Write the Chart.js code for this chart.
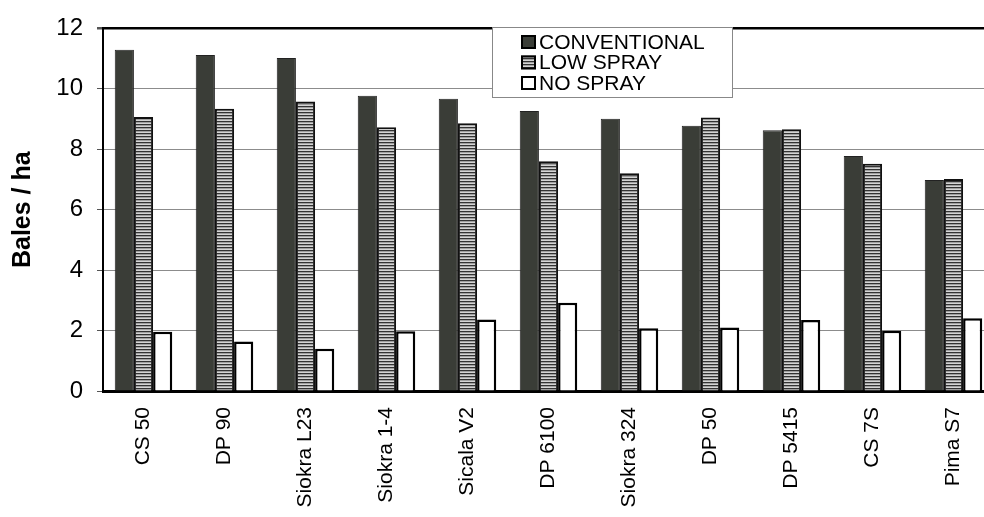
<!DOCTYPE html>
<html>
<head>
<meta charset="utf-8">
<script src="https://cdn.jsdelivr.net/npm/chart.js@4"></script>
<style>
  html, body { margin: 0; padding: 0; background: #fff; overflow: hidden; }
  #wrap { width: 1010px; height: 517px; }
</style>
</head>
<body>
<div id="wrap"><canvas id="c" width="1010" height="517"></canvas></div>
<script>
// values (bales / ha)
const cultivars = ['CS 50', 'DP 90', 'Siokra L23', 'Siokra 1-4', 'Sicala V2', 'DP 6100',
                   'Siokra 324', 'DP 50', 'DP 5415', 'CS 7S', 'Pima S7'];
const conventional = [11.29, 11.12, 11.02, 9.77, 9.67, 9.27, 9.01, 8.78, 8.63, 7.78, 6.98];
const lowSpray     = [9.07, 9.34, 9.58, 8.73, 8.86, 7.60, 7.21, 9.05, 8.66, 7.52, 7.02];
const noSpray      = [1.96, 1.64, 1.40, 1.98, 2.37, 2.92, 2.08, 2.10, 2.35, 1.99, 2.41];
const yTicks = [0, 2, 4, 6, 8, 10, 12];

const FONT = '"Liberation Sans", Arial, sans-serif';

// striped fill for the low spray bars
function stripes() {
  const p = document.createElement('canvas');
  p.width = 4; p.height = 3;
  const g = p.getContext('2d');
  g.fillStyle = '#d4d4d4'; g.fillRect(0, 0, 4, 1);
  g.fillStyle = '#333'; g.fillRect(0, 1, 4, 1);
  g.fillStyle = '#a0a0a0'; g.fillRect(0, 2, 4, 1);
  return g.createPattern(p, 'repeat');
}
const ctx = document.getElementById('c').getContext('2d');
const lowFill = stripes();

// legend box drawn inside the plot, like the original
const boxLegend = {
  id: 'boxLegend',
  afterDraw(chart) {
    const c = chart.ctx;
    const x = 492, y = 27, w = 240, h = 70;
    c.save();
    c.fillStyle = '#fff';
    c.fillRect(x, y, w, h);
    c.strokeStyle = '#888';
    c.lineWidth = 1;
    c.strokeRect(x + 0.5, y + 0.5, w, h);
    c.font = '21px ' + FONT;
    c.textBaseline = 'middle';
    chart.data.datasets.forEach((ds, i) => {
      const cy = 42 + i * 20.5;
      c.fillStyle = ds.backgroundColor;
      c.fillRect(521, cy - 7, 15, 14);
      c.strokeStyle = '#000';
      c.lineWidth = 2;
      c.strokeRect(522, cy - 6, 13, 12);
      c.fillStyle = '#000';
      c.fillText(ds.label, 539, cy + 1);
    });
    c.restore();
  }
};

new Chart(ctx, {
  type: 'bar',
  data: {
    labels: cultivars,
    datasets: [
      { label: 'CONVENTIONAL', data: conventional, backgroundColor: '#3a3d37', borderColor: '#222', borderWidth: 1 },
      { label: 'LOW SPRAY', data: lowSpray, backgroundColor: lowFill, borderColor: '#111', borderWidth: 2 },
      { label: 'NO SPRAY', data: noSpray, backgroundColor: '#fff', borderColor: '#000', borderWidth: 2.5 }
    ]
  },
  options: {
    responsive: false,
    animation: false,
    layout: { padding: { top: 20, right: 16, left: 0, bottom: 0 } },
    datasets: { bar: { categoryPercentage: 0.71, barPercentage: 1 } },
    plugins: { legend: { display: false }, tooltip: { enabled: false } },
    scales: {
      x: {
        grid: { display: false, drawTicks: false },
        border: { display: true, color: '#000', width: 3 },
        ticks: { color: '#000', font: { family: FONT, size: 21 }, minRotation: 90, maxRotation: 90, padding: 16, autoSkip: false },
        afterFit: s => { s.height = 126; }
      },
      y: {
        min: 0, max: 12,
        afterBuildTicks: s => { s.ticks = yTicks.map(v => ({ value: v })); },
        grid: {
          color: c => c.tick && c.tick.value === 12 ? '#000' : '#8c8c8c',
          lineWidth: c => c.tick && c.tick.value === 12 ? 2.5 : 1,
          tickLength: 6,
          tickColor: '#555'
        },
        border: { display: true, color: '#000', width: 2 },
        ticks: { color: '#000', font: { family: FONT, size: 24 }, padding: 14 },
        title: { display: true, text: 'Bales / ha', color: '#000', font: { family: FONT, size: 25, weight: 'bold' }, padding: { top: 8, bottom: 0 } },
        afterFit: s => { s.width = 103; }
      }
    }
  },
  plugins: [boxLegend]
});
</script>
</body>
</html>
